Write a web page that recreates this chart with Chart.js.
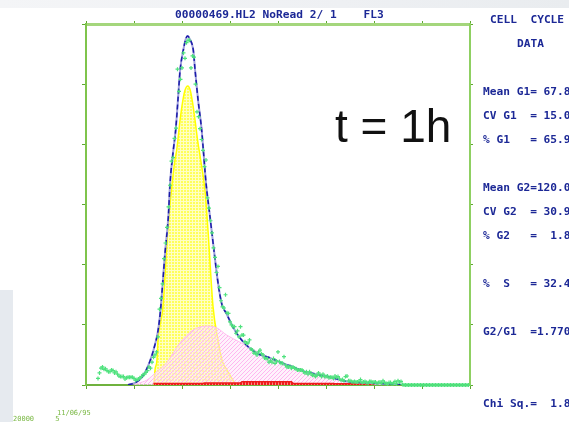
<!DOCTYPE html>
<html>
<head>
<meta charset="utf-8">
<script src="https://cdn.jsdelivr.net/npm/chart.js@4"></script>
<style>
body{margin:0;background:#fff;}
#wrap{position:relative;width:569px;height:422px;overflow:hidden;background:#fff;}
#box{position:absolute;left:0;top:0;width:569px;height:422px;}
.bgtop{position:absolute;left:0;top:0;width:569px;height:8px;background:linear-gradient(90deg,#f4f5f7,#eef0f3 60%,#e9ecef);}
.bgleft{position:absolute;left:0;top:290px;width:13px;height:132px;background:#e6eaef;}
.t{position:absolute;white-space:pre;font-family:"DejaVu Sans Mono",monospace;font-weight:bold;font-size:11.2px;line-height:12px;color:#1c2896;}
.big{position:absolute;left:335px;top:103px;font-family:"Liberation Sans",Arial,sans-serif;font-size:46px;line-height:46px;color:#111;}
.tiny{position:absolute;white-space:pre;font-family:"DejaVu Sans Mono",monospace;font-size:7px;line-height:8px;color:#7ab844;}
</style>
</head>
<body>
<div id="wrap">
  <div class="bgtop"></div>
  <div class="bgleft"></div>
  <div id="box"><canvas id="graphe"></canvas></div>
  <div class="t" style="left:175px;top:9px">00000469.HL2 NoRead 2/ 1    FL3</div>
  <div class="t" style="left:490px;top:14px">CELL  CYCLE</div>
  <div class="t" style="left:517px;top:38px">DATA</div>
  <div class="t" style="left:483px;top:86px">Mean G1= 67.8</div>
  <div class="t" style="left:483px;top:110px">CV G1  = 15.0</div>
  <div class="t" style="left:483px;top:134px">% G1   = 65.9</div>
  <div class="t" style="left:483px;top:182px">Mean G2=120.0</div>
  <div class="t" style="left:483px;top:206px">CV G2  = 30.9</div>
  <div class="t" style="left:483px;top:230px">% G2   =  1.8</div>
  <div class="t" style="left:483px;top:278px">%  S   = 32.4</div>
  <div class="t" style="left:483px;top:326px">G2/G1  =1.770</div>
  <div class="t" style="left:483px;top:398px">Chi Sq.=  1.8</div>
  <div class="big">t = 1h</div>
  <div class="tiny" style="left:57px;top:409px">11/06/95</div>
  <div class="tiny" style="left:13px;top:415px">20000     5</div>
</div>
<script>
// histogram counts, one per channel starting at channel 8
const firstChannel = 8;
const counts = [
  11,20,28,30,26,27,24,22,22,25,
  24,20,22,18,15,14,14,14,10,12,
  13,13,13,13,11,8,9,10,12,14,
  17,18,21,24,30,28,38,46,50,55,
  80,126,144,168,210,236,262,296,332,372,
  378,410,427,525,488,508,527,552,543,569,
  573,573,527,547,545,500,454,446,426,408,
  390,363,374,311,294,273,253,228,212,187,
  197,162,140,130,128,150,120,119,105,100,
  97,97,86,90,80,97,83,83,72,69,
  70,75,60,58,53,53,50,55,58,52,
  50,45,44,44,38,40,38,44,36,40,
  55,39,36,36,47,33,30,30,31,28,
  30,28,27,25,25,25,25,22,20,22,
  18,22,19,16,17,14,16,20,17,14,
  18,14,14,15,12,13,13,11,15,13,
  14,10,8,9,7,14,15,7,7,6,
  5,6,5,5,6,9,4,5,6,4,
  3,6,6,4,5,5,3,4,5,3,
  7,4,3,2,4,4,2,3,6,2,
  7,5,6,1,
  0,0,0,0,0,0,0,0,0,0,
  0,0,0,0,0,0,0,0,0,0,
  0,0,0,0,0,0,0,0,0,0,
  0,0,0,0,0,0,0,0,0,0,
  0,0,0,0
];

// total model fit
const fitX = [28,33,37,40,42.7,45,48,49.5,51,52.7,54.9,56,58.2,59.8,61.3,62.7,64.9,66.5,67.8,69.2,71.5,72.7,74.7,77.1,78.2,80,82.7,85.3,88,90.5,93.8,98,104.7,113.8,122.7,129.3,138,144.7,151.3,160.7,164.7,174,178,189.3,200,211.3];
const fitY = [0,4,12,24,40,58,90,120,165,220,280,334,390,424,474,522,557,575,580,575,557,524,474,424,391,336,279,224,170,135,118,96,72,53,45,38,30,23,19,14,11.6,6,5,3.3,2,0];

// G1 peak
const g1X = [45.3,46,47.3,48,51.3,54.5,57,59.3,60.5,62.7,64.5,66,67.8,69.5,71,72.7,74.5,76.2,79.3,81.3,84.7,88,90.7,94,98,100.7];
const g1Y = [0,25,41,75,130,258,325,374,391,440,472,490,497,490,470,440,405,378,324,258,130,75,41,25,8,0];

// S phase
const sX = [32,35,40.5,47.1,53.8,62.7,71.3,80.5,87.1,93.8,102.7,116,129.3,144.7,160.7,174,189.3,209.3];
const sY = [0,3,8,22,37,70,91,98,95,83,71,53,38,22,13,5,3,0];

// G2 peak
const g2X = [45,78,79,100,103,104,137,138,165,166,191,192];
const g2Y = [2.5,2.5,3.5,3.5,3.5,5.5,5.5,2.5,2.5,2,2,0];

const histo = counts.map((v, i) => ({x: firstChannel + i, y: v}));
const pairs = (xs, ys) => xs.map((x, i) => ({x: x, y: ys[i]}));

function pattern(w, h, paint){
  const c = document.createElement('canvas');
  c.width = w; c.height = h;
  const g = c.getContext('2d');
  paint(g);
  return g.createPattern(c, 'repeat');
}
const yellowGrid = pattern(3, 3, g => {
  g.fillStyle = '#ffff5a'; g.fillRect(0, 0, 3, 3);
  g.fillStyle = '#ffffc4'; g.fillRect(0, 0, 3, 1); g.fillRect(0, 0, 1, 3);
});
const pinkHatch = pattern(4, 4, g => {
  g.fillStyle = 'rgba(255,232,250,0.55)'; g.fillRect(0, 0, 4, 4);
  g.fillStyle = '#ffb6f0';
  for (let i = 0; i < 4; i++) g.fillRect(i, 3 - i, 1, 1);
});
const redHatch = pattern(3, 3, g => {
  g.fillStyle = '#ff8a8a'; g.fillRect(0, 0, 3, 3);
  g.fillStyle = '#ee1c1c'; g.fillRect(0, 0, 2, 3);
});

const axisGreen = '#7fc44c';
const tickGreen = '#5ea830';

var ctx = document.getElementById('graphe');
var chart = new Chart(ctx, {
  type: 'line',
  data: {
    datasets: [{
      label: 'data',
      data: histo,
      showLine: false,
      clip: 5,
      pointStyle: 'cross',
      pointRadius: 2,
      pointBorderColor: '#4fe27e',
      pointBorderWidth: 1.2,
      pointBackgroundColor: '#4fe27e'
    }, {
      label: 'fit',
      data: pairs(fitX, fitY),
      borderColor: '#1a1aa8',
      borderWidth: 1.5,
      borderDash: [5, 3],
      pointRadius: 0,
      cubicInterpolationMode: 'monotone',
      fill: false
    }, {
      label: 'fit shade',
      data: pairs(fitX, fitY),
      borderColor: '#a0a0dc',
      borderWidth: 2,
      pointRadius: 0,
      cubicInterpolationMode: 'monotone',
      fill: false
    }, {
      label: 'G2',
      data: pairs(g2X, g2Y),
      borderColor: '#ee1c1c',
      borderWidth: 1.5,
      backgroundColor: redHatch,
      pointRadius: 0,
      tension: 0,
      fill: 'origin'
    }, {
      label: 'S',
      data: pairs(sX, sY),
      borderColor: '#ffbcee',
      borderWidth: 1,
      backgroundColor: pinkHatch,
      pointRadius: 0,
      cubicInterpolationMode: 'monotone',
      fill: 'origin'
    }, {
      label: 'G1',
      data: pairs(g1X, g1Y),
      borderColor: '#ffff00',
      borderWidth: 1.5,
      backgroundColor: yellowGrid,
      pointRadius: 0,
      cubicInterpolationMode: 'monotone',
      fill: 'origin'
    }]
  },
  options: {
    responsive: true,
    maintainAspectRatio: false,
    animation: false,
    layout: {padding: 0},
    plugins: {legend: {display: false}, tooltip: {enabled: false}, title: {display: false}},
    scales: {
      x: {
        type: 'linear', position: 'bottom', min: 0, max: 256,
        ticks: {display: false, stepSize: 32},
        grid: {drawOnChartArea: false, drawTicks: true, tickLength: 4, color: tickGreen, lineWidth: 1},
        border: {display: true, color: '#6fb23e', width: 2},
        afterFit: s => { s.height = 37; }
      },
      x2: {
        type: 'linear', axis: 'x', position: 'top', min: 0, max: 256,
        ticks: {display: false, stepSize: 32},
        grid: {drawOnChartArea: false, drawTicks: true, tickLength: 3, color: tickGreen, lineWidth: 1},
        border: {display: true, color: '#a4d67c', width: 3},
        afterFit: s => { s.height = 24; }
      },
      y: {
        type: 'linear', position: 'left', min: 0, max: 600,
        ticks: {display: false, stepSize: 100},
        grid: {drawOnChartArea: false, drawTicks: true, tickLength: 4, color: tickGreen, lineWidth: 1},
        border: {display: true, color: axisGreen, width: 2},
        afterFit: s => { s.width = 86; }
      },
      y2: {
        type: 'linear', axis: 'y', position: 'right', min: 0, max: 600,
        ticks: {display: false, stepSize: 100},
        grid: {drawOnChartArea: false, drawTicks: true, tickLength: 3, color: tickGreen, lineWidth: 1},
        border: {display: true, color: '#8fd062', width: 2},
        afterFit: s => { s.width = 99; }
      }
    }
  }
});
</script>
</body>
</html>
